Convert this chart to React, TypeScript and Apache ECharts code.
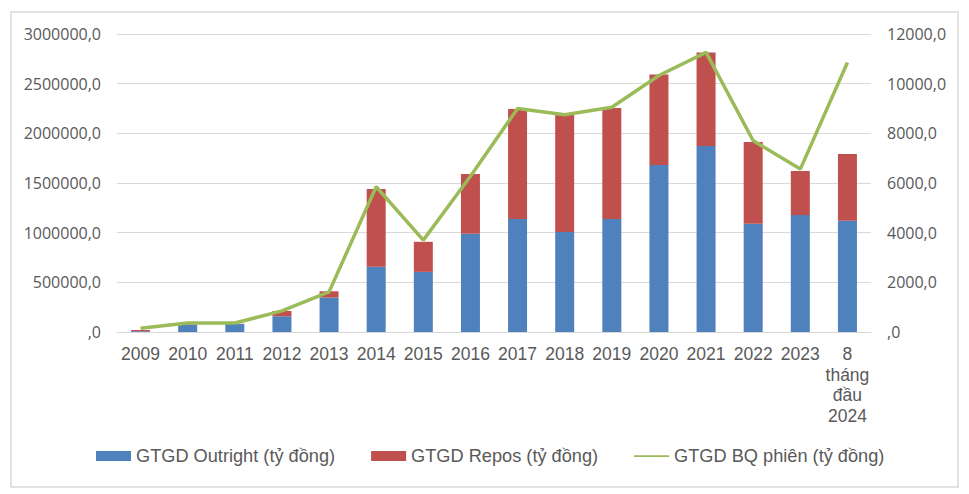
import React, { useEffect, useRef } from "react";
import * as echarts from "echarts";

const categories = ["2009", "2010", "2011", "2012", "2013", "2014", "2015", "2016", "2017", "2018", "2019", "2020", "2021", "2022", "2023", "8\ntháng\nđầu\n2024"];
const outright = [8000, 75000, 80000, 158000, 347000, 656000, 605000, 989000, 1137000, 1006000, 1137000, 1681000, 1873000, 1089000, 1177000, 1120000];
const repos = [12000, 3000, 3000, 54000, 63000, 784000, 303000, 602000, 1109000, 1180000, 1119000, 911000, 941000, 824000, 444000, 672000];
const avgSession = [150, 365, 360, 850, 1615, 5850, 3700, 6270, 9000, 8750, 9050, 10330, 11260, 7700, 6560, 10850];

const seriesNames = ["GTGD Outright (tỷ đồng)", "GTGD Repos (tỷ đồng)", "GTGD BQ phiên (tỷ đồng)"];

const fmt = (v: number) => (v === 0 ? ",0" : `${v},0`);

export default function App() {
  const ref = useRef<HTMLDivElement>(null);
  useEffect(() => {
    if (!ref.current) return;
    const chart = echarts.init(ref.current, undefined, { renderer: "svg" });
    const textColor = "#595959";
    chart.setOption({
      animation: false,
      backgroundColor: "#ffffff",
      textStyle: { fontFamily: "Open Sans" },
      graphic: [
        {
          type: "rect",
          shape: { x: 11, y: 12, width: 947, height: 475 },
          style: { fill: "none", stroke: "#D9D9D9", lineWidth: 1.5 },
          silent: true,
        },
      ],
      grid: { left: 117, right: 98, top: 34, bottom: 162, containLabel: false },
      legend: {
        bottom: 29,
        left: 96,
        padding: 0,
        itemWidth: 35,
        itemHeight: 10,
        itemGap: 36,
        textStyle: { fontFamily: "Liberation Sans", fontSize: 18.2, color: textColor },
        data: [
          { name: seriesNames[0], icon: "rect" },
          { name: seriesNames[1], icon: "rect" },
          { name: seriesNames[2], icon: "path://M0,0 M0,10 M0,4 L40,4 L40,6 L0,6 Z" },
        ],
      },
      xAxis: {
        type: "category",
        data: categories,
        axisTick: { show: false },
        axisLine: { show: true, lineStyle: { color: "#D9D9D9", width: 1 } },
        axisLabel: {
          color: textColor,
          fontSize: 17.5,
          lineHeight: 20.5,
          margin: 12,
          interval: 0,
          fontFamily: "Liberation Sans",
        },
      },
      yAxis: [
        {
          type: "value",
          min: 0,
          max: 3000000,
          interval: 500000,
          axisLine: { show: false },
          axisTick: { show: false },
          splitLine: { lineStyle: { color: "#D9D9D9", width: 1 } },
          axisLabel: { color: textColor, fontSize: 16, margin: 16, formatter: fmt, fontFamily: "Open Sans" },
        },
        {
          type: "value",
          min: 0,
          max: 12000,
          interval: 2000,
          axisLine: { show: false },
          axisTick: { show: false },
          splitLine: { show: false },
          axisLabel: { color: textColor, fontSize: 16, margin: 16, formatter: fmt, fontFamily: "Open Sans" },
        },
      ],
      series: [
        {
          name: seriesNames[0],
          type: "bar",
          stack: "total",
          data: outright,
          barWidth: 19,
          itemStyle: { color: "#4F81BD" },
        },
        {
          name: seriesNames[1],
          type: "bar",
          stack: "total",
          data: repos,
          barWidth: 19,
          itemStyle: { color: "#C0504D" },
        },
        {
          name: seriesNames[2],
          type: "line",
          yAxisIndex: 1,
          data: avgSession,
          symbol: "none",
          lineStyle: { color: "#9BBB59", width: 3.5 },
          itemStyle: { color: "#9BBB59" },
          z: 5,
        },
      ],
    });
    return () => chart.dispose();
  }, []);
  return <div ref={ref} style={{ position: "absolute", left: 0, top: 0, width: 969, height: 494 }} />;
}
